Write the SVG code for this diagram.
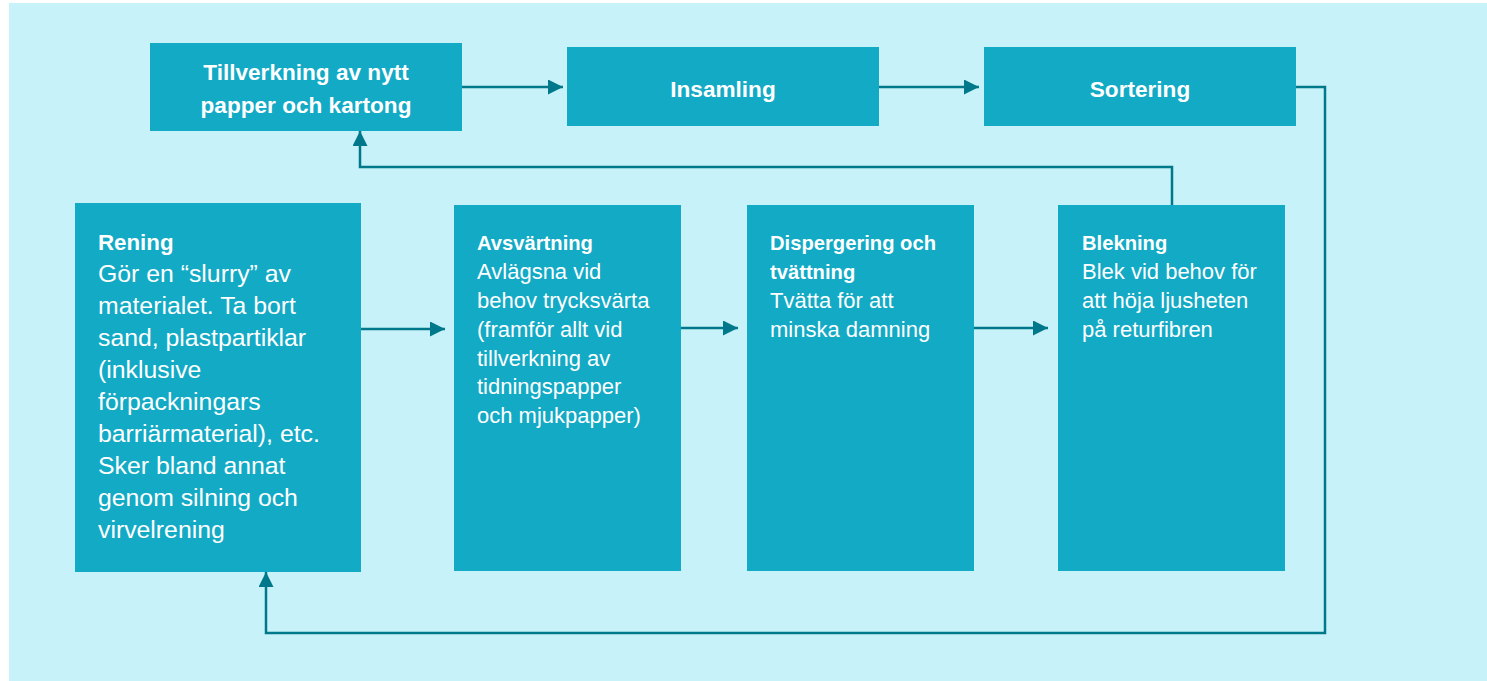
<svg xmlns="http://www.w3.org/2000/svg" width="1487" height="681" viewBox="0 0 1487 681">
<defs>
<marker id="ah" markerUnits="userSpaceOnUse" markerWidth="16" markerHeight="15" refX="15" refY="7.5" orient="auto">
<path d="M0,0 L15,7.5 L0,15 z" fill="#00788B"/>
</marker>
<style>
.box{fill:#12AAC5}
.ttl{font-family:"Liberation Sans",Arial,sans-serif;font-weight:bold;fill:#fff}
.body{font-family:"Liberation Sans",Arial,sans-serif;fill:#fff}
.con{fill:none;stroke:#00788B;stroke-width:2.5;marker-end:url(#ah)}
</style>
</defs>
<rect x="9" y="3" width="1478" height="678" fill="#C7F2F9"/>
<g id="n-tillverkning">
<rect class="box" x="150" y="43" width="312" height="88"/>
<text class="ttl" font-size="22.6" text-anchor="middle"><tspan x="306" y="80">Tillverkning av nytt</tspan><tspan x="306" y="113">papper och kartong</tspan></text>
</g>
<g id="n-insamling">
<rect class="box" x="567" y="47" width="312" height="79"/>
<text class="ttl" font-size="22.6" text-anchor="middle" x="723" y="97">Insamling</text>
</g>
<g id="n-sortering">
<rect class="box" x="984" y="47" width="312" height="79"/>
<text class="ttl" font-size="22.6" text-anchor="middle" x="1140" y="97">Sortering</text>
</g>
<g id="n-rening">
<rect class="box" x="75" y="203" width="286" height="369"/>
<text class="ttl" font-size="22.3" x="98" y="250">Rening</text>
<text class="body" font-size="24.8"><tspan x="98" y="282">Gör en “slurry” av</tspan><tspan x="98" y="314">materialet. Ta bort</tspan><tspan x="98" y="346">sand, plastpartiklar</tspan><tspan x="98" y="378">(inklusive</tspan><tspan x="98" y="410">förpackningars</tspan><tspan x="98" y="442">barriärmaterial), etc.</tspan><tspan x="98" y="474">Sker bland annat</tspan><tspan x="98" y="506">genom silning och</tspan><tspan x="98" y="538">virvelrening</tspan></text>
</g>
<g id="n-avsvartning">
<rect class="box" x="454" y="205" width="227" height="366"/>
<text class="ttl" font-size="20.2" x="477" y="250">Avsvärtning</text>
<text class="body" font-size="22"><tspan x="477" y="279">Avlägsna vid</tspan><tspan x="477" y="308">behov trycksvärta</tspan><tspan x="477" y="337">(framför allt vid</tspan><tspan x="477" y="366">tillverkning av</tspan><tspan x="477" y="394">tidningspapper</tspan><tspan x="477" y="423">och mjukpapper)</tspan></text>
</g>
<g id="n-dispergering">
<rect class="box" x="747" y="205" width="227" height="366"/>
<text class="ttl" font-size="20.2"><tspan x="770" y="250">Dispergering och</tspan><tspan x="770" y="279">tvättning</tspan></text>
<text class="body" font-size="22"><tspan x="770" y="308">Tvätta för att</tspan><tspan x="770" y="337">minska damning</tspan></text>
</g>
<g id="n-blekning">
<rect class="box" x="1058" y="205" width="227" height="366"/>
<text class="ttl" font-size="20.2" x="1082" y="250">Blekning</text>
<text class="body" font-size="22"><tspan x="1082" y="279">Blek vid behov för</tspan><tspan x="1082" y="308">att höja ljusheten</tspan><tspan x="1082" y="337">på returfibren</tspan></text>
</g>
<g id="connectors">
<path class="con" d="M462,87 H563"/>
<path class="con" d="M879,87 H979"/>
<path class="con" d="M1296,87 H1325 V633 H266 V572"/>
<path class="con" d="M1172,205 V167 H360 V131"/>
<path class="con" d="M361,329 H445"/>
<path class="con" d="M681,328 H738"/>
<path class="con" d="M974,328 H1048"/>
</g>
</svg>
